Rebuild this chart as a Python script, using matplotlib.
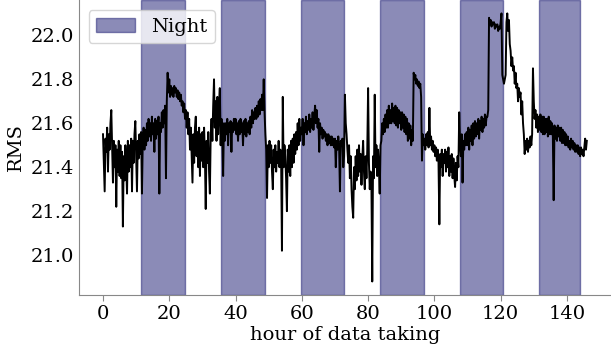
import numpy as np
import matplotlib
matplotlib.use("Agg")
import matplotlib.pyplot as plt

# RMS sampled every 0.25 hour of data taking (read from the reference), one
# group of four per hour
rms_00 = [21.55, 21.42, 21.29, 21.53,  21.47, 21.58, 21.38, 21.55,
          21.48, 21.60, 21.66, 21.50,  21.33, 21.52, 21.40, 21.50,
          21.22, 21.48, 21.38, 21.52,  21.36, 21.50, 21.35, 21.47,
          21.13, 21.45, 21.34, 21.50,  21.40, 21.28, 21.52, 21.38,
          21.50, 21.40, 21.53, 21.29,  21.52, 21.42, 21.55, 21.61]
rms_10 = [21.45, 21.29, 21.52, 21.44,  21.55, 21.46, 21.56, 21.28,
          21.52, 21.58, 21.48, 21.57,  21.50, 21.60, 21.52, 21.62,
          21.54, 21.60, 21.52, 21.63,  21.55, 21.60, 21.47, 21.62,
          21.53, 21.61, 21.55, 21.63,  21.28, 21.60, 21.56, 21.65,
          21.58, 21.66, 21.60, 21.68,  21.35, 21.70, 21.83, 21.74]
rms_20 = [21.80, 21.72, 21.77, 21.73,  21.76, 21.72, 21.77, 21.74,
          21.76, 21.72, 21.75, 21.71,  21.74, 21.70, 21.73, 21.68,
          21.70, 21.65, 21.69, 21.62,  21.66, 21.58, 21.65, 21.55,
          21.62, 21.48, 21.58, 21.45,  21.33, 21.55, 21.42, 21.58,
          21.63, 21.45, 21.56, 21.40,  21.58, 21.36, 21.55, 21.43]
rms_30 = [21.56, 21.40, 21.58, 21.45,  21.21, 21.52, 21.42, 21.56,
          21.38, 21.28, 21.55, 21.62,  21.52, 21.68, 21.80, 21.58,
          21.70, 21.52, 21.72, 21.55,  21.68, 21.76, 21.50, 21.62,
          21.56, 21.36, 21.60, 21.52,  21.60, 21.55, 21.62, 21.50,
          21.60, 21.56, 21.61, 21.47,  21.60, 21.56, 21.62, 21.57]
rms_40 = [21.62, 21.55, 21.60, 21.52,  21.61, 21.55, 21.62, 21.56,
          21.60, 21.50, 21.61, 21.55,  21.62, 21.54, 21.60, 21.56,
          21.61, 21.55, 21.63, 21.58,  21.66, 21.60, 21.65, 21.62,
          21.67, 21.62, 21.68, 21.63,  21.70, 21.64, 21.71, 21.66,
          21.73, 21.66, 21.80, 21.65,  21.55, 21.48, 21.26, 21.50]
rms_50 = [21.40, 21.52, 21.42, 21.50,  21.38, 21.30, 21.48, 21.40,
          21.50, 21.38, 21.47, 21.42,  21.52, 21.40, 21.48, 21.44,
          21.02, 21.72, 21.40, 21.50,  21.45, 21.35, 21.20, 21.48,
          21.38, 21.50, 21.36, 21.52,  21.40, 21.53, 21.42, 21.55,
          21.46, 21.56, 21.48, 21.60,  21.50, 21.62, 21.52, 21.58]
rms_60 = [21.55, 21.62, 21.50, 21.60,  21.56, 21.63, 21.55, 21.61,
          21.57, 21.64, 21.56, 21.62,  21.58, 21.65, 21.57, 21.63,
          21.68, 21.60, 21.66, 21.58,  21.62, 21.47, 21.60, 21.55,
          21.58, 21.53, 21.57, 21.54,  21.56, 21.52, 21.55, 21.50,
          21.55, 21.51, 21.54, 21.50,  21.54, 21.50, 21.53, 21.49]
rms_70 = [21.53, 21.40, 21.52, 21.48,  21.54, 21.49, 21.29, 21.52,
          21.50, 21.53, 21.40, 21.45,  21.73, 21.60, 21.55, 21.48,
          21.42, 21.50, 21.35, 21.45,  21.30, 21.22, 21.17, 21.40,
          21.30, 21.45, 21.34, 21.48,  21.36, 21.50, 21.38, 21.46,
          21.32, 21.44, 21.52, 21.38,  21.30, 21.45, 21.35, 21.48]
rms_80 = [21.76, 21.42, 21.30, 21.38,  21.32, 20.88, 21.45, 21.35,
          21.73, 21.40, 21.50, 21.36,  21.48, 21.40, 21.28, 21.50,
          21.52, 21.60, 21.55, 21.62,  21.56, 21.64, 21.58, 21.66,
          21.58, 21.68, 21.60, 21.66,  21.60, 21.69, 21.61, 21.67,
          21.60, 21.68, 21.59, 21.67,  21.58, 21.66, 21.60, 21.65]
rms_90 = [21.57, 21.65, 21.58, 21.64,  21.56, 21.63, 21.55, 21.62,
          21.52, 21.60, 21.53, 21.59,  21.50, 21.57, 21.52, 21.83,
          21.80, 21.82, 21.78, 21.80,  21.77, 21.79, 21.76, 21.78,
          21.72, 21.43, 21.55, 21.50,  21.53, 21.48, 21.55, 21.50,
          21.56, 21.49, 21.67, 21.50,  21.54, 21.48, 21.52, 21.47]
rms_100 = [21.50, 21.45, 21.49, 21.43,  21.48, 21.42, 21.14, 21.46,
           21.40, 21.48, 21.36, 21.46,  21.42, 21.48, 21.38, 21.47,
           21.40, 21.49, 21.36, 21.45,  21.38, 21.46, 21.35, 21.44,
           21.36, 21.31, 21.42, 21.34,  21.45, 21.40, 21.65, 21.52,
           21.45, 21.55, 21.33, 21.52,  21.48, 21.55, 21.50, 21.56]
rms_110 = [21.50, 21.58, 21.48, 21.57,  21.52, 21.59, 21.50, 21.60,
           21.53, 21.61, 21.54, 21.60,  21.55, 21.62, 21.53, 21.61,
           21.57, 21.63, 21.56, 21.62,  21.58, 21.64, 21.59, 21.63,
           21.63, 21.66, 22.08, 22.05,  22.07, 22.04, 22.06, 22.05,
           22.06, 22.03, 22.05, 22.04,  22.05, 22.02, 22.04, 22.03]
rms_120 = [22.06, 22.10, 21.82, 21.80,  21.78, 21.80, 21.82, 22.06,
           22.10, 22.02, 22.07, 21.96,  21.93, 21.86, 21.90, 21.84,
           21.86, 21.78, 21.83, 21.76,  21.78, 21.70, 21.76, 21.72,
           21.74, 21.64, 21.70, 21.60,  21.55, 21.46, 21.52, 21.48,
           21.53, 21.47, 21.52, 21.49,  21.54, 21.50, 21.55, 21.85]
rms_130 = [21.70, 21.62, 21.66, 21.58,  21.64, 21.56, 21.63, 21.57,
           21.64, 21.56, 21.63, 21.55,  21.63, 21.55, 21.62, 21.56,
           21.62, 21.54, 21.63, 21.55,  21.61, 21.55, 21.60, 21.54,
           21.25, 21.59, 21.53, 21.58,  21.52, 21.59, 21.54, 21.58,
           21.52, 21.58, 21.51, 21.57,  21.51, 21.56, 21.50, 21.55]
rms_140 = [21.50, 21.54, 21.49, 21.52,  21.48, 21.53, 21.49, 21.52,
           21.48, 21.51, 21.47, 21.50,  21.47, 21.50, 21.46, 21.49,
           21.45, 21.49, 21.46, 21.48,  21.45, 21.49, 21.53, 21.48,
           21.52]

rms = (rms_00 + rms_10 + rms_20 + rms_30 + rms_40 + rms_50 + rms_60 + rms_70
       + rms_80 + rms_90 + rms_100 + rms_110 + rms_120 + rms_130 + rms_140)
step_hours = 0.25
hours = np.arange(len(rms)) * step_hours

night_start = [11.5, 35.6, 59.6, 83.6, 107.6, 131.6]
night_end = [24.7, 48.8, 72.8, 96.9, 120.8, 143.8]

xticks = [0, 20, 40, 60, 80, 100, 120, 140]
yticks = [21.0, 21.2, 21.4, 21.6, 21.8, 22.0]

plt.rcParams['font.family'] = ['DejaVu Serif']
plt.rcParams['font.size'] = 14

fig = plt.figure(figsize=(6.11, 3.54), dpi=100)
ax = fig.add_axes([0.129, 0.167, 0.871, 0.833])

for i, (s, e) in enumerate(zip(night_start, night_end)):
    ax.axvspan(s, e, color='midnightblue', alpha=0.5, lw=1,
               label='Night' if i == 0 else None)

ax.plot(hours, rms, color='black', lw=1.4)

ax.set_xticks(xticks)
ax.set_yticks(yticks)
ax.set_xlabel('hour of data taking', labelpad=2)
ax.set_ylabel('RMS')

for side in ['top', 'right']:
    ax.spines[side].set_visible(False)
for side in ['left', 'bottom']:
    ax.spines[side].set_color('#888888')
ax.tick_params(axis='x', colors='#888888', labelcolor='black', length=4)
ax.tick_params(axis='y', length=0, labelcolor='black')

ax.legend(loc='upper left')

fig.savefig('out.png', dpi=100)
